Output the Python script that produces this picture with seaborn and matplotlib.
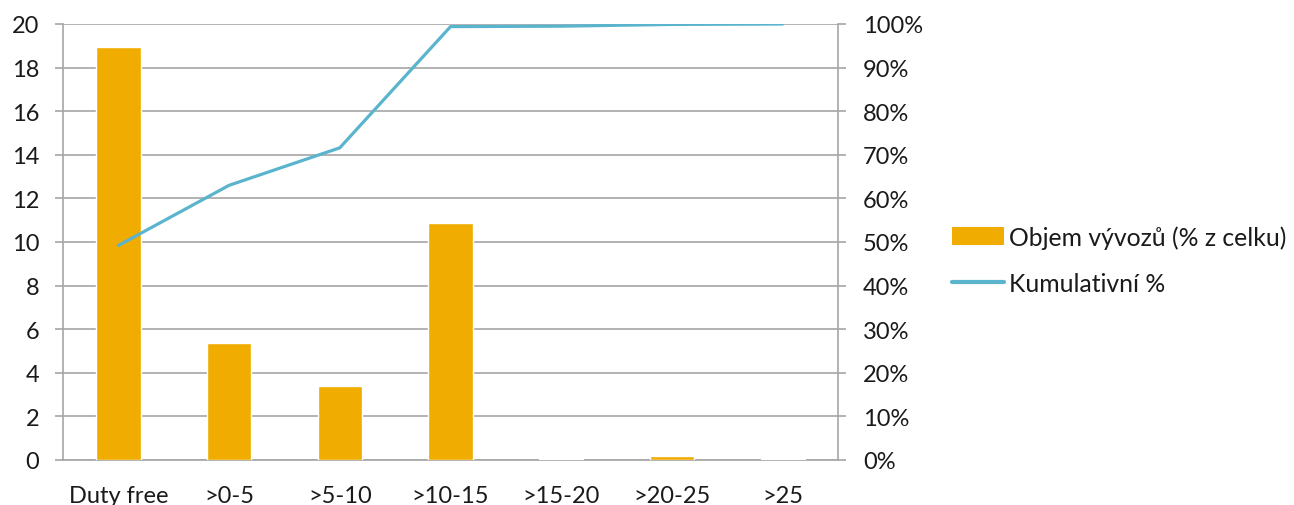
import matplotlib
matplotlib.use("Agg")
import matplotlib.pyplot as plt
import seaborn as sns
import numpy as np
import pandas as pd
from matplotlib.patches import Patch
from matplotlib.lines import Line2D
from matplotlib.ticker import FuncFormatter, FixedLocator

categories = ["Duty free", ">0-5", ">5-10", ">10-15", ">15-20", ">20-25", ">25"]
export_share = [18.94, 5.37, 3.39, 10.87, 0.05, 0.18, 0.03]
cumulative_pct = [49.2, 63.0, 71.6, 99.4, 99.5, 99.9, 100.0]
y_left_ticks = [0, 2, 4, 6, 8, 10, 12, 14, 16, 18, 20]
y_right_ticks = [0, 10, 20, 30, 40, 50, 60, 70, 80, 90, 100]

BAR_C = "#F0AC00"
LINE_C = "#5BB4CE"
GRID_C = "#A6A6A6"
TXT_C = "#1A1A1A"
FS = 17
LFS = 17.8

sns.set_theme(style="white")
plt.rcParams['font.family'] = ['Lato', 'DejaVu Sans']

df = pd.DataFrame({"cat": categories, "val": export_share, "cum": cumulative_pct})

fig = plt.figure(figsize=(12.94, 5.06), dpi=100)
ax = fig.add_axes([63/1294, 45/506, 775/1294, 436/506])

sns.barplot(data=df, x="cat", y="val", color=BAR_C, width=0.4, saturation=1, ax=ax, zorder=3)
ax.set_xlim(-0.5, len(categories) - 0.5)
ax.set_ylim(0, 20)
ax.set_yticks(y_left_ticks)
ax.yaxis.grid(True, color=GRID_C, linewidth=1.2, zorder=0)
ax.set_axisbelow(True)
ax.set_xlabel("")
ax.set_ylabel("")

for s in ["top", "right"]:
    ax.spines[s].set_visible(False)
for s in ["left", "bottom"]:
    ax.spines[s].set_color(GRID_C)
    ax.spines[s].set_linewidth(1.2)

ax.tick_params(axis="x", which="major", length=0, pad=18, labelsize=FS, colors=TXT_C)
ax.xaxis.set_minor_locator(FixedLocator(np.arange(-0.5, len(categories), 1.0)))
ax.tick_params(axis="x", which="minor", length=6, width=1.2, color=GRID_C, direction="out")
ax.tick_params(axis="y", which="major", length=6, width=1.2, color=GRID_C, direction="out",
               pad=11, labelsize=FS, labelcolor=TXT_C, left=True)

ax2 = ax.twinx()
sns.lineplot(x=np.arange(len(categories)), y=df["cum"], color=LINE_C, linewidth=2.3, ax=ax2, zorder=4)
ax2.set_ylim(0, 100)
ax2.set_yticks(y_right_ticks)
ax2.yaxis.set_major_formatter(FuncFormatter(lambda v, p: f"{int(v)}%"))
ax2.set_ylabel("")
ax2.yaxis.tick_right()
for s in ["top", "left", "bottom"]:
    ax2.spines[s].set_visible(False)
ax2.spines["right"].set_color(GRID_C)
ax2.spines["right"].set_linewidth(1.2)
ax2.tick_params(axis="y", which="major", right=True, labelright=True, left=False, labelleft=False,
                length=6, width=1.2, color=GRID_C, direction="out", pad=12,
                labelsize=FS, labelcolor=TXT_C)

handles = [Patch(facecolor=BAR_C, edgecolor="none"), Line2D([0], [0], color=LINE_C, linewidth=3)]
labels = ["Objem vývozů (% z celku)", "Kumulativní %"]
fig.legend(handles, labels, loc="center left", bbox_to_anchor=(952/1294, (506-261)/506),
           frameon=False, fontsize=LFS, labelspacing=0.95, handlelength=2.1, handletextpad=0.22,
           borderpad=0, borderaxespad=0, labelcolor=TXT_C)

fig.savefig("out.png", dpi=100)
